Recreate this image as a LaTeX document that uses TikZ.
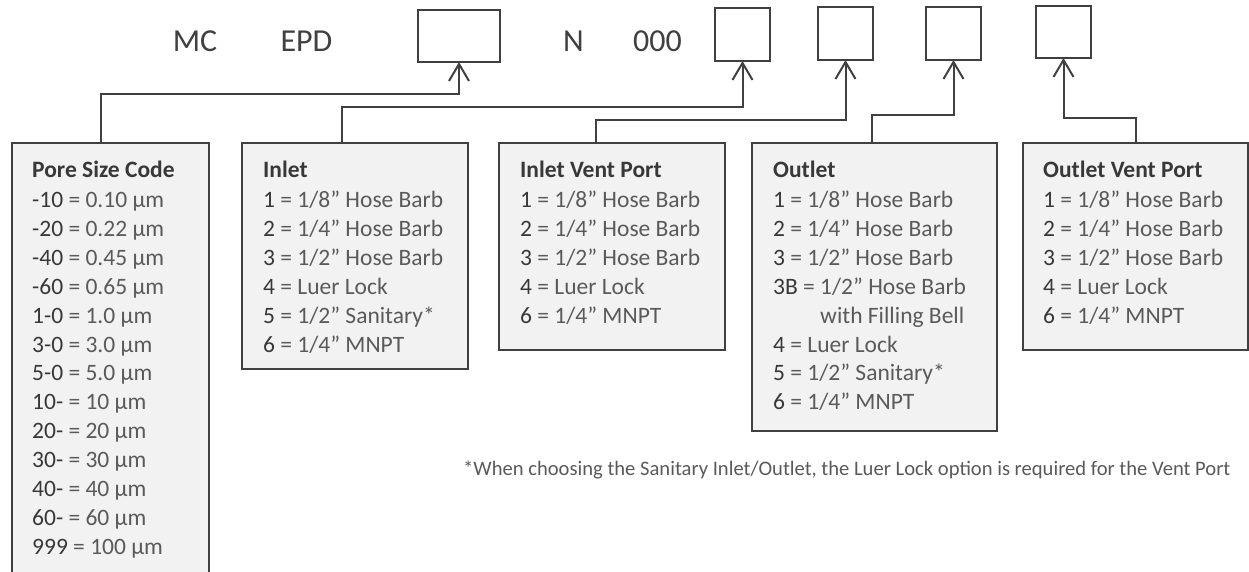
\documentclass[tikz,border=0pt]{standalone}
\usepackage{fontspec}
\setmainfont{Carlito}
\usetikzlibrary{arrows.meta}
\definecolor{ln}{HTML}{404040}
\definecolor{cdc}{HTML}{383838}
\definecolor{dsc}{HTML}{5A5A5A}
\definecolor{bxf}{HTML}{F2F2F2}
\newcommand\cd[1]{\textcolor{cdc}{#1}}
\begin{document}
\begin{tikzpicture}[x=1pt,y=-1pt,
  codebox/.style={draw=ln, line width=1.8pt, fill=bxf, inner sep=0pt, outer sep=0pt, anchor=north west},
  slot/.style={draw=ln, line width=2pt, fill=white, inner sep=0pt, outer sep=0pt, anchor=north west},
  conn/.style={draw=ln, line width=2pt, -{Straight Barb[length=17pt,width=20pt]}},
  hd/.style={anchor=base west, inner sep=0pt, font=\fontsize{23.5}{28}\selectfont\bfseries, text=cdc},
  itm/.style={anchor=base west, inner sep=0pt, font=\fontsize{23.5}{28}\selectfont, text=dsc},
  toptxt/.style={anchor=base, inner sep=0pt, font=\fontsize{32}{38}\selectfont, text=ln},
  note/.style={anchor=base west, inner sep=0pt, font=\fontsize{20.6}{24}\selectfont, text=dsc}]
\clip (0,0) rectangle (1249,571);
\fill[white] (0,0) rectangle (1249,571);

% top code line
\node[toptxt] (tMC) at (195,51) {MC};
\node[toptxt] (tEPD) at (306.5,51) {EPD};
\node[toptxt] (tN) at (573.5,51) {N};
\node[toptxt] (t000) at (657.5,51) {000};
\node[slot, minimum width=82pt, minimum height=52pt] (b1) at (418,10) {};
\node[slot, minimum width=55pt, minimum height=53pt] (b2) at (715,8) {};
\node[slot, minimum width=55pt, minimum height=53pt] (b3) at (818,7) {};
\node[slot, minimum width=55pt, minimum height=53pt] (b4) at (926,7) {};
\node[slot, minimum width=55pt, minimum height=52pt] (b5) at (1036,6) {};

% option boxes
\node[codebox, minimum width=197pt, minimum height=445pt] (pore) at (12,143) {};
\node[codebox, minimum width=226pt, minimum height=226pt] (inl) at (242,143) {};
\node[codebox, minimum width=226pt, minimum height=207pt] (inv) at (499,143) {};
\node[codebox, minimum width=245pt, minimum height=288pt] (outl) at (752,143) {};
\node[codebox, minimum width=225pt, minimum height=207pt] (outv) at (1023,143) {};

% connectors
\coordinate (cP) at (101,143);
\coordinate (cI) at (342,143);
\coordinate (cIV) at (596,143);
\coordinate (cO) at (872,143);
\coordinate (cOV) at (1136,143);
\draw[conn] (cP) -- ++(0,-49) -| (b1.south);
\draw[conn] (cI) -- ++(0,-36) -| (b2.south);
\draw[conn] (cIV) -- ++(0,-23) -| (b3.south);
\draw[conn] (cO) -- ++(0,-28) -| (b4.south);
\draw[conn] (cOV) -- ++(0,-25) -| (b5.south);

% pore size text
\node[hd] (poreT) at (32,177.5) {Pore Size Code};
\foreach \t [count=\i from 0] in {{\cd{-10} = 0.10 µm},{\cd{-20} = 0.22 µm},{\cd{-40} = 0.45 µm},{\cd{-60} = 0.65 µm},{\cd{1-0} = 1.0 µm},{\cd{3-0} = 3.0 µm},{\cd{5-0} = 5.0 µm},{\cd{10-} = 10 µm},{\cd{20-} = 20 µm},{\cd{30-} = 30 µm},{\cd{40-} = 40 µm},{\cd{60-} = 60 µm},{\cd{999} = 100 µm}}
  \node[itm] (pore-\i) at (32,207.5+28.9*\i) {\t};

% inlet
\node[hd] (inlT) at (263,177.5) {Inlet};
\foreach \t [count=\i from 0] in {{\cd{1} = 1/8” Hose Barb},{\cd{2} = 1/4” Hose Barb},{\cd{3} = 1/2” Hose Barb},{\cd{4} = Luer Lock},{\cd{5} = 1/2” Sanitary*},{\cd{6} = 1/4” MNPT}}
  \node[itm] (inl-\i) at (263,207.5+28.9*\i) {\t};

% inlet vent port
\node[hd] (invT) at (520,177.5) {Inlet Vent Port};
\foreach \t [count=\i from 0] in {{\cd{1} = 1/8” Hose Barb},{\cd{2} = 1/4” Hose Barb},{\cd{3} = 1/2” Hose Barb},{\cd{4} = Luer Lock},{\cd{6} = 1/4” MNPT}}
  \node[itm] (inv-\i) at (520,207.5+28.9*\i) {\t};

% outlet
\node[hd] (outlT) at (773,177.5) {Outlet};
\foreach \t [count=\i from 0] in {{\cd{1} = 1/8” Hose Barb},{\cd{2} = 1/4” Hose Barb},{\cd{3} = 1/2” Hose Barb},{\cd{3B} = 1/2” Hose Barb},{\phantom{\cd{3B} = }with Filling Bell},{\cd{4} = Luer Lock},{\cd{5} = 1/2” Sanitary*},{\cd{6} = 1/4” MNPT}}
  \node[itm] (outl-\i) at (773,207.5+28.9*\i) {\t};

% outlet vent port
\node[hd] (outvT) at (1043,177.5) {Outlet Vent Port};
\foreach \t [count=\i from 0] in {{\cd{1} = 1/8” Hose Barb},{\cd{2} = 1/4” Hose Barb},{\cd{3} = 1/2” Hose Barb},{\cd{4} = Luer Lock},{\cd{6} = 1/4” MNPT}}
  \node[itm] (outv-\i) at (1043,207.5+28.9*\i) {\t};

% footnote
\node[note] (foot) at (463,475) {*When choosing the Sanitary Inlet/Outlet, the Luer Lock option is required for the Vent Port};
\end{tikzpicture}
\end{document}
